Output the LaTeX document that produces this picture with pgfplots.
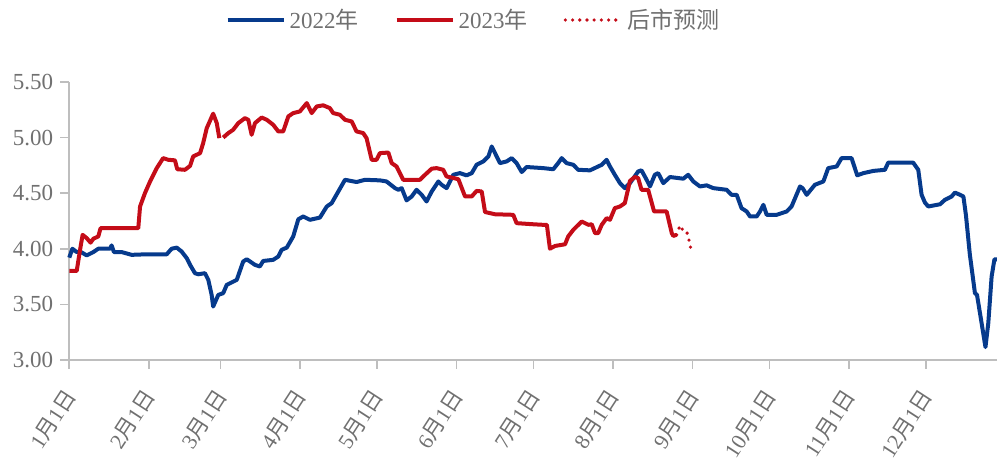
\documentclass[border=0pt]{standalone}
\usepackage{pgfplots}
\pgfplotsset{compat=1.18}
\usepackage{fontspec}
\setmainfont{Liberation Serif}
\newfontfamily\cjk{Noto Sans CJK SC}
\definecolor{blueA}{RGB}{6,58,140}
\definecolor{redA}{RGB}{196,12,24}
\definecolor{axisgray}{RGB}{190,190,190}
\definecolor{txtgray}{RGB}{112,112,112}
\newcommand{\lbl}[1]{#1{\cjk 月}1{\cjk 日}}
\begin{document}
\begin{tikzpicture}
\begin{axis}[
  name=ax,
  scale only axis,
  width=464pt, height=139pt,
  xmin=0, xmax=361.7,
  ymin=3, ymax=5.5,
  axis x line*=bottom, axis y line*=left,
  axis line style={draw=axisgray, line width=0.8pt},
  every tick/.style={draw=axisgray, line width=0.8pt},
  tick align=outside,
  major tick length=4.5pt,
  xtick={0,31,59,90,120,151,181,212,243,273,304,334},
  xticklabels={\lbl{1},\lbl{2},\lbl{3},\lbl{4},\lbl{5},\lbl{6},\lbl{7},\lbl{8},\lbl{9},\lbl{10},\lbl{11},\lbl{12}},
  ytick={3,3.5,4,4.5,5,5.5},
  yticklabel style={/pgf/number format/.cd, fixed, fixed zerofill, precision=2, assume math mode=true},
  tick label style={font=\fontsize{11.5}{13}\selectfont, text=txtgray},
  xticklabel style={font=\fontsize{10.8}{12}\selectfont, xshift=2.5pt, yshift=-8.5pt, rotate=57, anchor=east},
  clip=false,
  unbounded coords=jump,
  legend columns=3,
  legend style={at={(0.4367,1.223)}, anchor=center, draw=none, fill=none,
    font=\fontsize{11.5}{13}\selectfont, text=txtgray,
    /tikz/every even column/.append style={column sep=16pt}},
  legend image code/.code={\draw[#1] (0pt,0pt) -- (28pt,0pt);},
]
\addplot[blueA, line width=2pt, line join=round] coordinates {
(0,3.92) (1.2,4.00) (2.9,3.97) (4.2,3.975) (6.8,3.94) (9.4,3.97) (11.3,4.00) (15.9,4.00) (16.5,4.03) (17.4,3.97)
(20.4,3.97) (24.3,3.945) (30.2,3.95) (38.0,3.95) (39.9,4.00) (41.9,4.01) (43.8,3.975) (45.8,3.915) (47.1,3.855) (49.0,3.78)
(50.3,3.77) (52.9,3.78) (54.2,3.72) (55.5,3.585) (56.1,3.48) (58.1,3.585) (60.0,3.60) (61.4,3.675) (65.3,3.72) (67.8,3.885)
(69.2,3.905) (72.4,3.855) (74.3,3.84) (75.6,3.89) (79.5,3.90) (81.5,3.93) (82.8,3.99) (84.8,4.01) (87.3,4.11) (89.3,4.265)
(91.2,4.29) (93.8,4.26) (97.7,4.28) (100.4,4.38) (102.3,4.41) (107.5,4.62) (112.0,4.60) (115.3,4.62) (121.1,4.615) (123.7,4.605)
(127.0,4.545) (128.3,4.53) (129.6,4.545) (131.5,4.435) (133.5,4.47) (135.4,4.53) (137.4,4.485) (139.3,4.425) (141.3,4.515) (143.9,4.605)
(145.2,4.575) (147.1,4.545) (149.7,4.665) (152.3,4.68) (154.9,4.66) (156.9,4.68) (158.8,4.755) (161.4,4.785) (163.4,4.83) (164.7,4.92)
(166.0,4.86) (167.9,4.77) (170.5,4.785) (172.5,4.815) (174.4,4.77) (176.4,4.69) (178.3,4.735) (184.8,4.725) (188.7,4.715) (190.6,4.77)
(192.0,4.815) (193.9,4.77) (196.5,4.755) (198.4,4.71) (203.0,4.705) (207.6,4.755) (209.5,4.80) (210.8,4.74) (212.7,4.665) (214.7,4.59)
(216.6,4.545) (218.6,4.59) (221.8,4.695) (223.1,4.705) (225.1,4.62) (226.4,4.56) (228.3,4.665) (229.6,4.68) (231.6,4.59) (234.2,4.645)
(239.4,4.63) (241.3,4.665) (243.3,4.605) (245.9,4.56) (248.5,4.57) (251.1,4.545) (256.3,4.53) (258.2,4.485) (260.2,4.485) (262.1,4.365)
(264.1,4.335) (265.4,4.29) (268.0,4.29) (269.3,4.335) (270.6,4.395) (271.9,4.305) (275.8,4.305) (279.7,4.335) (281.6,4.38) (284.9,4.56)
(285.9,4.545) (287.5,4.485) (290.7,4.575) (294.0,4.605) (295.9,4.725) (299.2,4.74) (301.1,4.815) (305.0,4.815) (307.2,4.66) (309.6,4.68)
(313.5,4.70) (318.0,4.71) (319.3,4.775) (329.0,4.775) (331.0,4.71) (332.3,4.485) (333.6,4.415) (334.9,4.38) (339.5,4.40) (341.4,4.44)
(344.0,4.47) (345.3,4.505) (347.3,4.485) (348.6,4.47) (349.6,4.30) (351.1,3.95) (353.1,3.60) (353.9,3.585) (355.7,3.33) (357.2,3.115)
(358.3,3.33) (359.6,3.75) (360.7,3.905) (361.7,3.905)
};
\addlegendentry{2022{\cjk 年}}
\addplot[redA, line width=2pt, line join=round] coordinates {
(0,3.80) (2.9,3.80) (4.2,3.99) (5.2,4.125) (6.8,4.095) (8.3,4.055) (9.4,4.09) (11.3,4.11) (12.2,4.185) (26.9,4.185)
(27.6,4.38) (29.5,4.50) (31.5,4.605) (34.1,4.725) (36.6,4.815) (38.6,4.80) (41.2,4.795) (42.1,4.715) (45.1,4.71) (47.1,4.745)
(48.3,4.83) (51.0,4.86) (52.2,4.95) (53.6,5.085) (56.1,5.215) (57.5,5.13) (58.5,4.995) (59.3,nan) (60.0,5.00) (62.0,5.04)
(63.9,5.07) (65.9,5.13) (68.5,5.175) (69.8,5.16) (71.1,5.025) (72.4,5.13) (75.0,5.18) (77.0,5.16) (79.5,5.115) (81.5,5.055)
(83.4,5.055) (85.4,5.19) (87.3,5.22) (89.9,5.235) (92.6,5.31) (94.5,5.22) (96.5,5.28) (99.0,5.29) (101.6,5.265) (102.9,5.22)
(105.5,5.205) (107.5,5.16) (110.1,5.145) (112.0,5.055) (114.6,5.04) (115.9,4.995) (117.9,4.80) (119.8,4.80) (121.1,4.86) (124.4,4.865)
(125.7,4.77) (127.6,4.74) (130.2,4.62) (136.7,4.62) (138.7,4.665) (141.3,4.72) (143.2,4.725) (145.8,4.71) (147.1,4.65) (149.1,4.64)
(151.7,4.625) (154.3,4.47) (156.9,4.47) (158.8,4.52) (160.8,4.515) (162.1,4.33) (166.0,4.31) (173.1,4.305) (174.4,4.23) (180.9,4.22)
(184.8,4.215) (186.2,4.215) (187.4,4.00) (189.4,4.025) (193.3,4.04) (194.5,4.11) (196.5,4.17) (199.8,4.245) (202.4,4.215) (203.7,4.22)
(205.0,4.14) (206.2,4.14) (207.6,4.215) (209.5,4.275) (210.8,4.26) (212.7,4.365) (214.7,4.38) (216.6,4.41) (218.6,4.61) (220.5,4.645)
(221.8,4.635) (223.1,4.53) (225.7,4.53) (228.0,4.335) (232.9,4.335) (234.9,4.14) (235.5,4.115) (236.8,4.125)
};
\addlegendentry{2023{\cjk 年}}
\addplot[redA, line width=1.8pt, line cap=round, dash pattern=on 0pt off 3.6pt] coordinates {
(236.8,4.125) (238.1,4.21) (239.4,4.16) (240.7,4.155) (241.3,4.11) (242.3,4.005)
};
\addlegendentry{{\cjk 后市预测}}
\end{axis}
\pgfresetboundingbox
\path[use as bounding box] ([xshift=-34.65pt,yshift=-53pt]ax.south west) rectangle ([yshift=41pt]ax.north east);
\end{tikzpicture}
\end{document}
